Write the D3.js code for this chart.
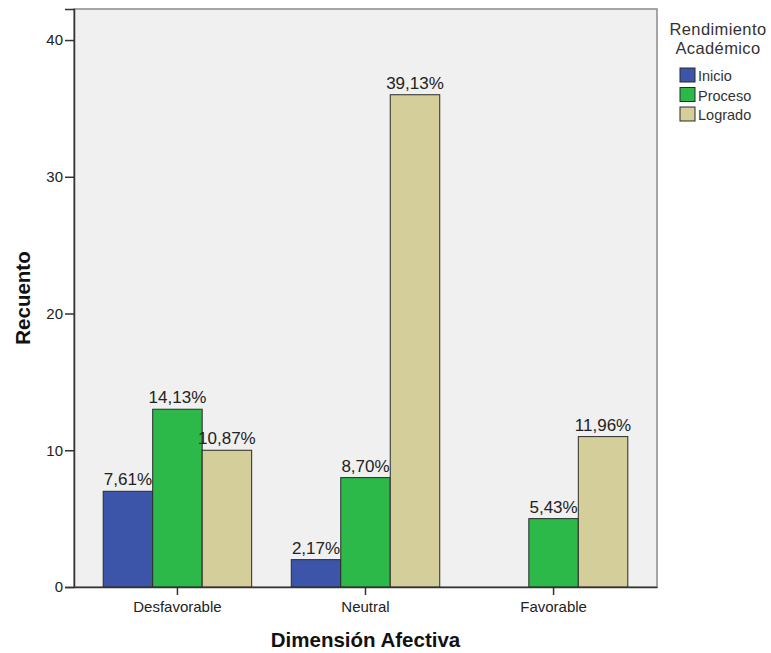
<!DOCTYPE html>
<html>
<head>
<meta charset="utf-8">
<script src="https://cdn.jsdelivr.net/npm/d3@7"></script>
<style>
  html, body { margin: 0; padding: 0; background: #ffffff; }
  svg { display: block; font-family: "Liberation Sans", Arial, sans-serif; }
</style>
</head>
<body>
<svg id="chart" width="771" height="653"></svg>
<script>
const categories = ["Desfavorable", "Neutral", "Favorable"];
const seriesNames = ["Inicio", "Proceso", "Logrado"];
const inicio  = [7, 2, 0];
const proceso = [13, 8, 5];
const logrado = [10, 36, 11];
const yTicks = [0, 10, 20, 30, 40];
const colors = ["#3d55a8", "#2db84a", "#d3ce9a"];
const legendTitle = ["Rendimiento", "Académico"];
const xTitle = "Dimensión Afectiva";
const yTitle = "Recuento";

const seriesValues = [inicio, proceso, logrado];
const total = d3.sum(seriesValues.flat());
const fmtPct = v => (v / total * 100).toFixed(2).replace(".", ",") + "%";

const svg = d3.select("#chart");
const L = 74, T = 9, R = 657, B = 587;

const x = d3.scaleBand().domain(categories).range([L, R]).paddingInner(0).paddingOuter(0.05);
const xs = d3.scaleBand().domain(seriesNames).range([0, x.bandwidth()]).paddingInner(0).paddingOuter(0.4);
const y = d3.scaleLinear().domain([0, 42.27]).range([B, T]);

// plot background
svg.append("rect").attr("x", L).attr("y", T).attr("width", R - L).attr("height", B - T)
  .attr("fill", "#f0f0f0").attr("stroke", "#8a8a8a").attr("stroke-width", 1.5);

// bars
const data = [];
categories.forEach((c, i) => {
  seriesNames.forEach((s, j) => {
    const v = seriesValues[j][i];
    if (v > 0) data.push({ c, s, v, color: colors[j] });
  });
});

const g = svg.append("g");
g.selectAll("rect.bar").data(data).join("rect")
  .attr("class", "bar")
  .attr("x", d => x(d.c) + xs(d.s))
  .attr("y", d => y(d.v))
  .attr("width", xs.bandwidth())
  .attr("height", d => y(0) - y(d.v))
  .attr("fill", d => d.color)
  .attr("stroke", "#2a2a2a").attr("stroke-width", 1);

g.selectAll("text.lbl").data(data).join("text")
  .attr("class", "lbl")
  .attr("x", d => x(d.c) + xs(d.s) + xs.bandwidth() / 2)
  .attr("y", d => y(d.v) - 6)
  .attr("text-anchor", "middle")
  .attr("font-size", "17px")
  .attr("fill", "#222")
  .text(d => fmtPct(d.v));

// axes
const yAxis = d3.axisLeft(y).tickValues(yTicks).tickSize(9).tickPadding(2).tickFormat(d3.format("d"));
const ya = svg.append("g").attr("transform", `translate(${L},0)`).call(yAxis);
ya.select(".domain").attr("stroke", "#333").attr("stroke-width", 1.5);
ya.selectAll(".tick line").attr("stroke", "#333").attr("stroke-width", 1.5);
ya.selectAll(".tick text").attr("font-size", "15px").attr("fill", "#222").attr("font-family", "Liberation Sans, Arial, sans-serif");

const xAxis = d3.axisBottom(x).tickSize(8).tickPadding(6).tickSizeOuter(0);
const xa = svg.append("g").attr("transform", `translate(0,${B})`).call(xAxis);
xa.select(".domain").attr("stroke", "#333").attr("stroke-width", 1.5);
xa.selectAll(".tick line").attr("stroke", "#333").attr("stroke-width", 1.5);
xa.selectAll(".tick text").attr("font-size", "15px").attr("fill", "#222").attr("font-family", "Liberation Sans, Arial, sans-serif");

// axis titles
svg.append("text").attr("x", (L + R) / 2).attr("y", 647)
  .attr("text-anchor", "middle").attr("font-size", "20.5px").attr("font-weight", "bold").attr("fill", "#111")
  .text(xTitle);
svg.append("text").attr("transform", "translate(30,298) rotate(-90)")
  .attr("text-anchor", "middle").attr("font-size", "20.5px").attr("font-weight", "bold").attr("fill", "#111")
  .text(yTitle);

// legend
const lg = svg.append("g");
lg.selectAll("text.lt").data(legendTitle).join("text")
  .attr("class", "lt")
  .attr("x", 718).attr("y", (d, i) => 35 + i * 19)
  .attr("text-anchor", "middle").attr("font-size", "16.5px").attr("fill", "#333")
  .style("letter-spacing", "0.4px")
  .text(d => d);
const items = lg.selectAll("g.item").data(seriesNames).join("g")
  .attr("class", "item")
  .attr("transform", (d, i) => `translate(680,${68 + i * 19.5})`);
items.append("rect").attr("width", 15).attr("height", 14)
  .attr("fill", (d, i) => colors[i]).attr("stroke", "#2a2a2a").attr("stroke-width", 1);
items.append("text").attr("x", 18).attr("y", 13).attr("font-size", "14.5px").attr("fill", "#333").text(d => d);
</script>
</body>
</html>
